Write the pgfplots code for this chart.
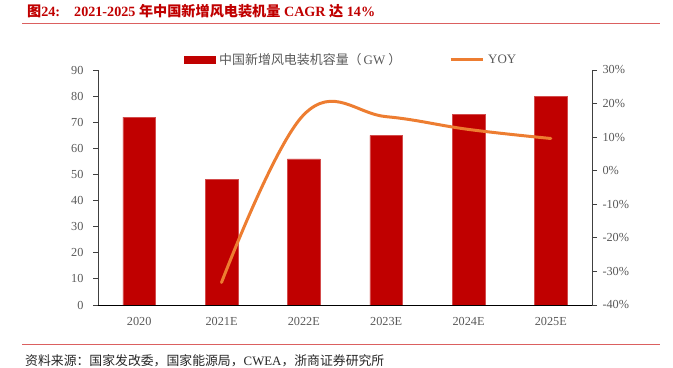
\documentclass[border=0pt]{standalone}
\usepackage{pgfplots}
\pgfplotsset{compat=1.18}
\usepackage{fontspec}
\setmainfont{Liberation Serif}
\newfontfamily\cjk{Noto Sans CJK SC}
\definecolor{barred}{HTML}{C00000}
\definecolor{yoy}{HTML}{ED7D31}
\definecolor{ticktxt}{HTML}{595959}
\definecolor{rulered}{HTML}{DB6060}
\definecolor{titlered}{HTML}{C00000}
\begin{document}
\begin{tikzpicture}
\path[use as bounding box] (0bp,0bp) rectangle (673bp,368bp);
% title
\node[anchor=west, text=titlered, font=\fontsize{14.2}{16}\selectfont\bfseries, inner sep=0] at (27bp,357bp)
  {{\cjk 图}24:\hspace{14bp}2021-2025 {\cjk 年中国新增风电装机量} CAGR {\cjk 达} 14\%};
\draw[rulered, line width=1bp] (22bp,344bp) -- (660bp,344bp);
% source
\draw[rulered, line width=1bp] (22bp,23.5bp) -- (660bp,23.5bp);
\node[anchor=west, text=black!85, font=\fontsize{12.9}{14}\selectfont, inner sep=0] at (25bp,7.5bp)
  {{\cjk 资料来源：国家发改委，国家能源局，}CWEA{\cjk ，浙商证券研究所}};

\begin{axis}[
  at={(98bp,63bp)}, anchor=south west,
  scale only axis, width=494bp, height=235bp,
  xmin=-0.5, xmax=5.5, ymin=0, ymax=90,
  ytick={0,10,...,90},
  xtick={0,1,2,3,4,5},
  xticklabels={2020,2021E,2022E,2023E,2024E,2025E},
  axis x line*=bottom, axis y line*=left,
  x axis line style={-, draw=black, line width=0.9bp},
  y axis line style={-, draw=black!75, line width=0.9bp},
  tick align=outside,
  xtick style={draw=none},
  ytick style={draw=black!75, line width=0.8bp},
  major tick length=5bp,
  /pgf/number format/assume math mode=true,
  tick label style={text=ticktxt, font=\fontsize{12.3}{14}\selectfont},
  yticklabel style={xshift=-6bp},
  xticklabel style={yshift=-4bp},
  ybar, bar width=32.7bp,
  legend style={at={(0.5,1.0)}, xshift=7bp, anchor=south, draw=none, fill=none,
     legend columns=2, font=\fontsize{13}{15}\selectfont, text=ticktxt,
     nodes={inner xsep=4bp},
     /tikz/every even column/.append style={column sep=44bp}},
  legend image code/.code={\fill[barred] (0bp,-3.5bp) rectangle (31bp,3.5bp);},
]
\addplot[fill=barred, draw=barred!70!white, line width=0.5bp] coordinates {(0,72) (1,48) (2,56) (3,65) (4,73) (5,80)};
\addlegendentry{{\cjk 中国新增风电装机容量（}\kern2bp GW\kern3bp{\cjk ）}}
\addlegendimage{line legend, yoy, line width=3bp, legend image code/.code={\draw[yoy, line width=3bp] (0bp,0bp) -- (32bp,0bp);}}
\addlegendentry{YOY}
\end{axis}

\begin{axis}[
  at={(98bp,63bp)}, anchor=south west,
  scale only axis, width=494bp, height=235bp,
  xmin=-0.5, xmax=5.5, ymin=-40, ymax=30,
  ytick={-40,-30,...,30},
  yticklabels={-40\%,-30\%,-20\%,-10\%,0\%,10\%,20\%,30\%},
  axis x line=none, axis y line*=right,
  y axis line style={-, draw=black!75, line width=0.9bp},
  tick align=outside,
  ytick style={draw=black!75, line width=0.8bp},
  major tick length=5bp,
  tick label style={text=ticktxt, font=\fontsize{12.3}{14}\selectfont},
  yticklabel style={xshift=2bp},
]
\addplot[yoy, line width=3bp, smooth, tension=0.65, line cap=round] coordinates {(1,-33.3) (2,16.7) (3,16.1) (4,12.3) (5,9.6)};
\end{axis}
\end{tikzpicture}
\end{document}
